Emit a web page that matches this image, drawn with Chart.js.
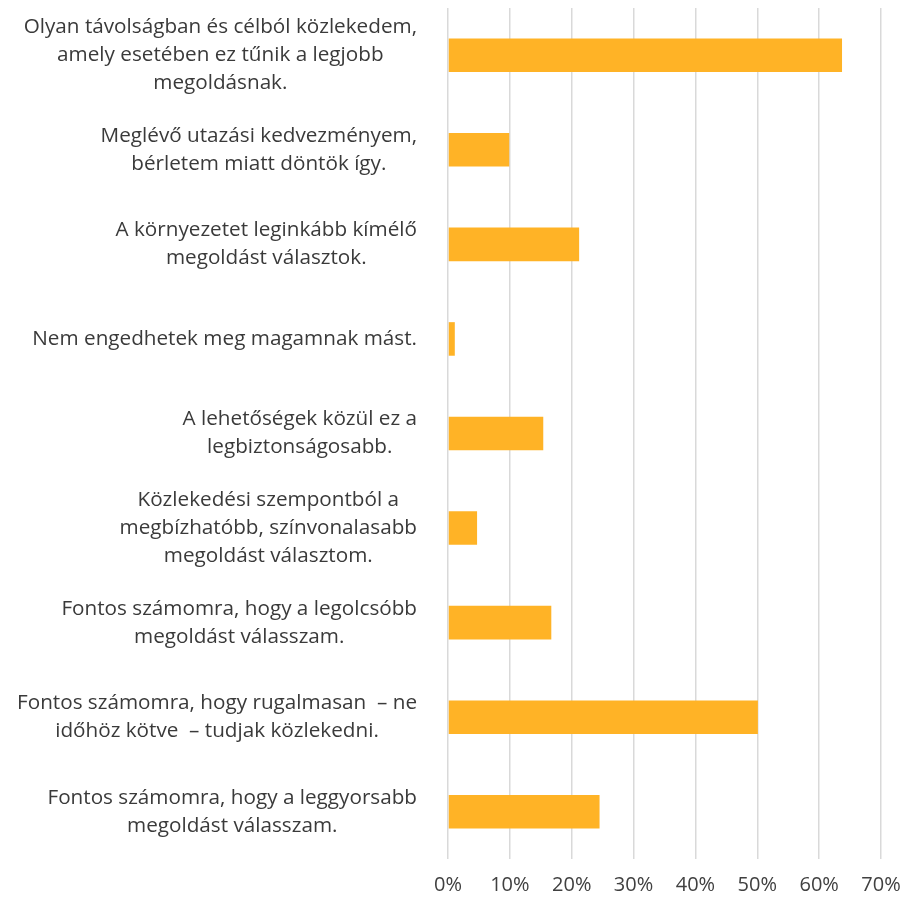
<!DOCTYPE html>
<html>
<head>
<meta charset="utf-8">
<script src="https://cdn.jsdelivr.net/npm/chart.js@4"></script>
<style>
  html, body { margin: 0; padding: 0; background: #fff; }
  #wrap { width: 904px; height: 901px; position: relative; }
</style>
</head>
<body>
<div id="wrap"><canvas id="reasonsChart"></canvas></div>
<script>
const categories = [
    ['Olyan távolságban és célból közlekedem,', 'amely esetében ez tűnik a legjobb', 'megoldásnak.'],
    ['Meglévő utazási kedvezményem,', 'bérletem miatt döntök így.'],
    ['A környezetet leginkább kímélő', 'megoldást választok.'],
    ['Nem engedhetek meg magamnak mást.'],
    ['A lehetőségek közül ez a', 'legbiztonságosabb.'],
    ['Közlekedési szempontból a', 'megbízhatóbb, színvonalasabb', 'megoldást választom.'],
    ['Fontos számomra, hogy a legolcsóbb', 'megoldást válasszam.'],
    ['Fontos számomra, hogy rugalmasan  – ne', 'időhöz kötve  – tudjak közlekedni.'],
    ['Fontos számomra, hogy a leggyorsabb', 'megoldást válasszam.']
];
const shares = [63.7, 9.9, 21.2, 1.1, 15.4, 4.7, 16.7, 50.1, 24.5];
const tickValues = [0, 10, 20, 30, 40, 50, 60, 70];

const FONT = '"Open Sans", Lato, sans-serif';

// category labels: each block centered on itself, block right-aligned to the axis
const blockLabels = {
    id: 'blockLabels',
    afterDraw(chart) {
        const ctx = chart.ctx;
        const y = chart.scales.y;
        const right = chart.chartArea.left - 31;
        const lineH = 28;
        ctx.save();
        ctx.font = '20.7px ' + FONT;
        ctx.fillStyle = '#3a3a3a';
        ctx.textAlign = 'center';
        ctx.textBaseline = 'middle';
        categories.forEach((lines, i) => {
            const cy = y.getPixelForValue(i);
            const w = Math.max(...lines.map(l => ctx.measureText(l).width));
            const cx = right - w / 2;
            lines.forEach((l, j) => {
                ctx.fillText(l, cx, cy + (j - (lines.length - 1) / 2) * lineH);
            });
        });
        ctx.restore();
    }
};

new Chart(document.getElementById('reasonsChart').getContext('2d'), {
    type: 'bar',
    data: {
        labels: categories,
        datasets: [{
            data: shares,
            backgroundColor: '#FFB326',
            borderWidth: 0,
            barPercentage: 0.71,
            categoryPercentage: 0.5
        }]
    },
    plugins: [blockLabels],
    options: {
        indexAxis: 'y',
        responsive: true,
        maintainAspectRatio: false,
        animation: false,
        layout: {
            padding: { left: 448, right: 23, top: 8, bottom: 0 }
        },
        scales: {
            x: {
                min: 0,
                max: 70,
                afterBuildTicks: s => { s.ticks = tickValues.map(v => ({ value: v })); },
                afterFit: s => {
                    s.height = 42;
                    s.paddingLeft = 0;
                    s.paddingRight = 0;
                },
                grid: {
                    color: '#d9d9d9',
                    lineWidth: 1.5,
                    drawTicks: false
                },
                border: { display: false },
                ticks: {
                    padding: 14,
                    color: '#404040',
                    font: { family: FONT, size: 20 },
                    callback: v => v + '%'
                }
            },
            y: {
                display: false
            }
        },
        plugins: {
            legend: { display: false },
            tooltip: { enabled: false }
        }
    }
});
</script>
</body>
</html>
